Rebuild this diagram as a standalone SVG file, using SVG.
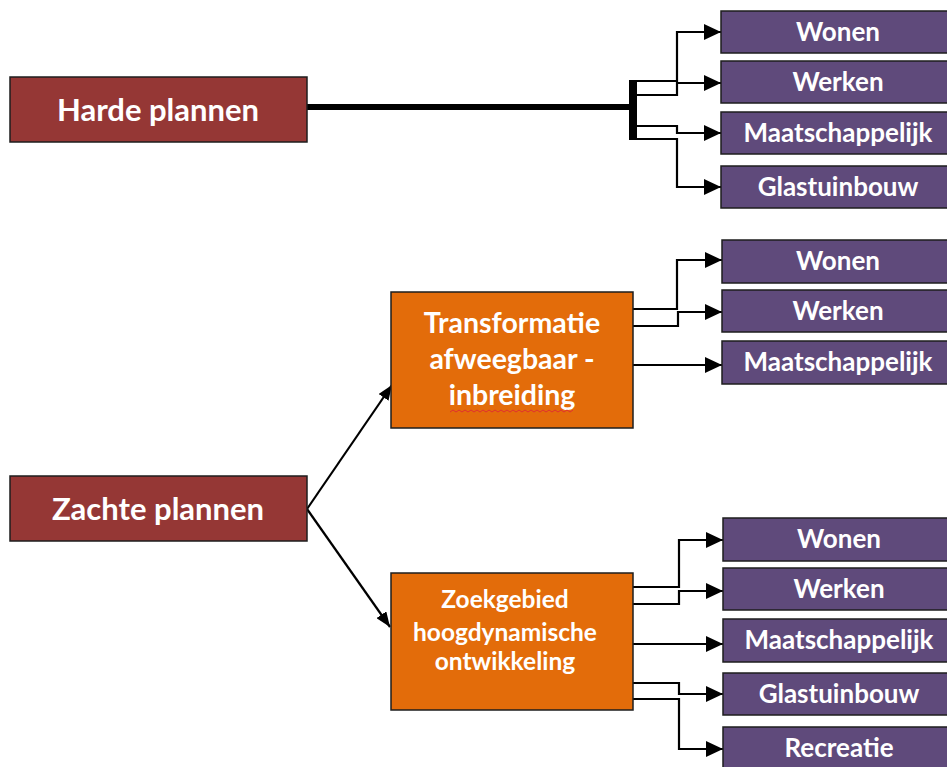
<svg xmlns="http://www.w3.org/2000/svg" width="947" height="767" viewBox="0 0 947 767">
<style>
.red{fill:#953735;stroke:#1e1e1e;stroke-width:1.5}
.org{fill:#E36C0A;stroke:#1e1e1e;stroke-width:1.5}
.pur{fill:#5F4A7B;stroke:#1e1e1e;stroke-width:1.5}
text{font-family:Lato,"Open Sans","Liberation Sans",sans-serif;font-weight:700;fill:#ffffff;text-anchor:middle}
.t1{font-size:31px}
.t2{font-size:26px}
.t3{font-size:28.5px}
.t4{font-size:24.5px}
.c{fill:none;stroke:#000;stroke-width:2.2}
</style>
<defs>
<marker id="ah" viewBox="0 0 17 16" refX="17" refY="8" markerWidth="17" markerHeight="16" markerUnits="userSpaceOnUse" orient="auto"><path d="M0,0 L17,8 L0,16 z" fill="#000"/></marker>
<marker id="ad" viewBox="0 0 15 12" refX="15" refY="6" markerWidth="15" markerHeight="12" markerUnits="userSpaceOnUse" orient="auto"><path d="M0,0 L15,6 L0,12 z" fill="#000"/></marker>
</defs>
<rect width="947" height="767" fill="#fff"/>
<g id="connectors">
<path d="M307,107 H633" fill="none" stroke="#000" stroke-width="6"/>
<path d="M633,80 V140" fill="none" stroke="#000" stroke-width="8"/>
<path class="c" d="M637,81 H677 V32 H721" marker-end="url(#ah)"/>
<path class="c" d="M637,95 H677 V83 H721" marker-end="url(#ah)"/>
<path class="c" d="M637,126 H677 V133 H721" marker-end="url(#ah)"/>
<path class="c" d="M637,139 H677 V187 H721" marker-end="url(#ah)"/>
<path class="c" d="M633,309 H677 V260 H722" marker-end="url(#ah)"/>
<path class="c" d="M633,326 H678 V312 H722" marker-end="url(#ah)"/>
<path class="c" d="M633,365 H722" marker-end="url(#ah)"/>
<path class="c" d="M633,587 H679 V540 H723" marker-end="url(#ah)"/>
<path class="c" d="M633,604 H679 V591 H723" marker-end="url(#ah)"/>
<path class="c" d="M633,644 H723" marker-end="url(#ah)"/>
<path class="c" d="M633,683 H679 V694 H723" marker-end="url(#ah)"/>
<path class="c" d="M633,699 H679 V749 H723" marker-end="url(#ah)"/>
<path class="c" d="M307,509 L392,385" marker-end="url(#ad)"/>
<path class="c" d="M307,509 L390,627" marker-end="url(#ad)"/>
</g>
<g id="harde"><rect class="red" x="10" y="77" width="297" height="65"/><text class="t1" x="158" y="121">Harde plannen</text></g>
<g id="zachte"><rect class="red" x="10" y="476" width="297" height="65"/><text class="t1" x="158" y="520">Zachte plannen</text></g>
<g id="transformatie"><rect class="org" x="391" y="292" width="242" height="136"/>
<text class="t3" x="512" y="333">Transformatie</text>
<text class="t3" x="512" y="369">afweegbaar -</text>
<text class="t3" x="512" y="405">inbreiding</text>
<path d="M450,412 l3,-2 l3,2 l3,-2 l3,2 l3,-2 l3,2 l3,-2 l3,2 l3,-2 l3,2 l3,-2 l3,2 l3,-2 l3,2 l3,-2 l3,2 l3,-2 l3,2 l3,-2 l3,2 l3,-2 l3,2 l3,-2 l3,2 l3,-2 l3,2 l3,-2 l3,2 l3,-2 l3,2 l3,-2 l3,2 l3,-2 l3,2 l3,-2 l3,2 l3,-2 l3,2 l3,-2 l3,2 l3,-2" fill="none" stroke="#e03030" stroke-width="1"/>
</g>
<g id="zoekgebied"><rect class="org" x="391" y="573" width="242" height="137"/>
<text class="t4" x="505" y="608">Zoekgebied</text>
<text class="t4" x="505" y="641">hoogdynamische</text>
<text class="t4" x="505" y="670">ontwikkeling</text>
</g>
<g id="h-wonen"><rect class="pur" x="721" y="11" width="240" height="42"/><text class="t2" x="838" y="41">Wonen</text></g>
<g id="h-werken"><rect class="pur" x="721" y="61" width="240" height="42"/><text class="t2" x="838" y="91">Werken</text></g>
<g id="h-maatschappelijk"><rect class="pur" x="721" y="112" width="240" height="42"/><text class="t2" x="838" y="142">Maatschappelijk</text></g>
<g id="h-glastuinbouw"><rect class="pur" x="721" y="166" width="240" height="42"/><text class="t2" x="838" y="196">Glastuinbouw</text></g>
<g id="t-wonen"><rect class="pur" x="722" y="240" width="240" height="43"/><text class="t2" x="838" y="270">Wonen</text></g>
<g id="t-werken"><rect class="pur" x="722" y="290" width="240" height="42"/><text class="t2" x="838" y="320">Werken</text></g>
<g id="t-maatschappelijk"><rect class="pur" x="722" y="341" width="240" height="43"/><text class="t2" x="838" y="371">Maatschappelijk</text></g>
<g id="z-wonen"><rect class="pur" x="723" y="518" width="240" height="43"/><text class="t2" x="839" y="548">Wonen</text></g>
<g id="z-werken"><rect class="pur" x="723" y="568" width="240" height="42"/><text class="t2" x="839" y="598">Werken</text></g>
<g id="z-maatschappelijk"><rect class="pur" x="723" y="619" width="240" height="43"/><text class="t2" x="839" y="649">Maatschappelijk</text></g>
<g id="z-glastuinbouw"><rect class="pur" x="723" y="673" width="240" height="42"/><text class="t2" x="839" y="703">Glastuinbouw</text></g>
<g id="z-recreatie"><rect class="pur" x="723" y="727" width="240" height="50"/><text class="t2" x="839" y="757">Recreatie</text></g>
</svg>
